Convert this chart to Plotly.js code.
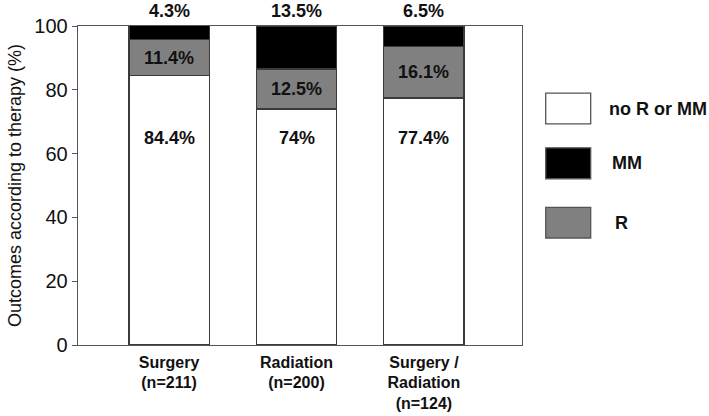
<!DOCTYPE html>
<html>
<head>
<meta charset="utf-8">
<script src="https://cdn.plot.ly/plotly-3.0.1.min.js"></script>
<style>
  html, body { margin: 0; padding: 0; background: #fff; }
  #chart { width: 709px; height: 416px; }
</style>
</head>
<body>
<div id="chart"></div>
<script>
// categories and outcome shares (%)
const categories = ["Surgery<br>(n=211)", "Radiation<br>(n=200)", "Surgery /<br>Radiation<br>(n=124)"];
const noROrMM = [84.4, 74, 77.4];
const rShare = [11.4, 12.5, 16.1];
const mmShare = [4.3, 13.5, 6.5];

const noLabels = ["84.4%", "74%", "77.4%"];
const rLabels = ["11.4%", "12.5%", "16.1%"];
const mmLabels = ["4.3%", "13.5%", "6.5%"];

const yTicks = [0, 20, 40, 60, 80, 100];
const legendNames = ["no R or MM", "MM", "R"];

const FONT = "Arial, 'Liberation Sans', sans-serif";
const EDGE = {color: "#3a3a3a", width: 1.3};
const xIdx = [0, 1, 2];

const traces = [
  {type: "bar", x: xIdx, y: noROrMM, name: legendNames[0], width: 0.63,
   marker: {color: "#ffffff", line: EDGE}, hoverinfo: "skip"},
  {type: "bar", x: xIdx, y: rShare, name: legendNames[2], width: 0.63,
   marker: {color: "#808080", line: EDGE}, hoverinfo: "skip"},
  {type: "bar", x: xIdx, y: mmShare, name: legendNames[1], width: 0.63,
   marker: {color: "#000000", line: EDGE}, hoverinfo: "skip"}
];

const lblFont = {family: FONT, size: 18, color: "#111"};
const annotations = [];
xIdx.forEach(i => {
  // white segment label sits near the top of the segment
  annotations.push({x: i, y: 65, text: "<b>" + noLabels[i] + "</b>", showarrow: false, font: lblFont});
  annotations.push({x: i, y: noROrMM[i] + rShare[i] / 2, text: "<b>" + rLabels[i] + "</b>", showarrow: false, font: lblFont});
  // MM share printed just above the top of the frame
  annotations.push({x: i, y: Math.min(100, noROrMM[i] + rShare[i] + mmShare[i]),
    yanchor: "bottom", yshift: 3, text: "<b>" + mmLabels[i] + "</b>", showarrow: false, font: lblFont});
});

// legend drawn as swatches + labels to the right of the plot
const swatchColors = ["#ffffff", "#000000", "#808080"];
const swatchY = [[0.6933, 0.7894], [0.5211, 0.6182], [0.3355, 0.4313]];
const textX = [1.191, 1.198, 1.205];
const shapes = swatchY.map((yy, k) => ({
  type: "rect", xref: "paper", yref: "paper",
  x0: 1.0534, x1: 1.1547, y0: yy[0], y1: yy[1],
  fillcolor: swatchColors[k], line: {color: "#555", width: 1.3}
}));
swatchY.forEach((yy, k) => {
  annotations.push({
    xref: "paper", yref: "paper", x: textX[k], y: (yy[0] + yy[1]) / 2,
    xanchor: "left", yanchor: "middle", showarrow: false,
    text: "<b>" + legendNames[k] + "</b>",
    font: {family: FONT, size: 18, color: "#111"}
  });
});

const layout = {
  width: 709, height: 416,
  margin: {l: 78, r: 187, t: 26, b: 70.5, pad: 0},
  paper_bgcolor: "#fff", plot_bgcolor: "#fff",
  barmode: "stack",
  showlegend: false,
  font: {family: FONT, color: "#111"},
  xaxis: {
    range: [-0.715, 2.77],
    tickvals: xIdx, ticktext: categories.map(c => "<b>" + c + "</b>"),
    tickfont: {family: FONT, size: 16, color: "#111"},
    ticklabelstandoff: 2,
    showline: true, linecolor: "#555", linewidth: 1.3, mirror: true,
    ticks: "", showgrid: false, zeroline: false, fixedrange: true
  },
  yaxis: {
    range: [0, 100],
    tickvals: yTicks,
    tickfont: {family: FONT, size: 20, color: "#111"},
    ticks: "outside", ticklen: 5, tickcolor: "#555",
    showline: true, linecolor: "#555", linewidth: 1.3, mirror: true,
    showgrid: false, zeroline: false,
    title: {text: "Outcomes according to therapy (%)", font: {family: FONT, size: 18, color: "#111"}, standoff: 8}
  },
  annotations: annotations,
  shapes: shapes
};

Plotly.newPlot("chart", traces, layout, {displayModeBar: false, staticPlot: true});
</script>
</body>
</html>
